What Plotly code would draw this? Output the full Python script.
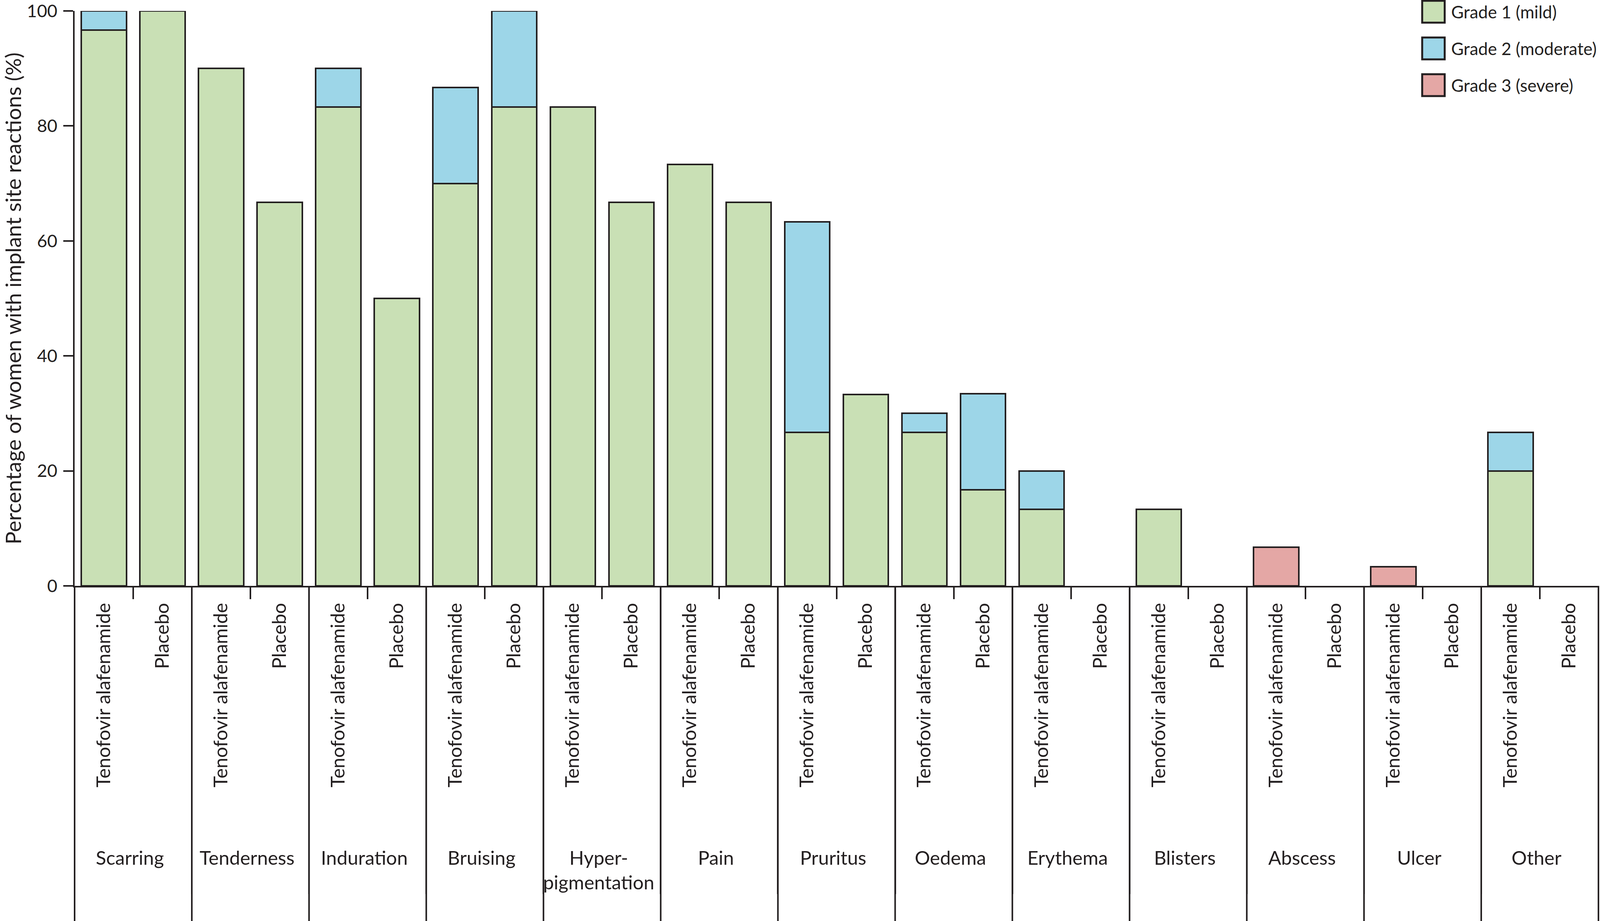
import plotly.graph_objects as go

# ---------------- data ----------------
groups = ["Scarring", "Tenderness", "Induration", "Bruising", "Hyper-<br>pigmentation",
          "Pain", "Pruritus", "Oedema", "Erythema", "Blisters", "Abscess", "Ulcer", "Other"]
arms = ["Tenofovir alafenamide", "Placebo"]

grade1_taf = [96.7, 90.0, 83.3, 70.0, 83.3, 73.3, 26.7, 26.7, 13.3, 13.3, 0.0, 0.0, 20.0]
grade2_taf = [3.3, 0.0, 6.7, 16.7, 0.0, 0.0, 36.6, 3.3, 6.7, 0.0, 0.0, 0.0, 6.7]
grade3_taf = [0.0, 0.0, 0.0, 0.0, 0.0, 0.0, 0.0, 0.0, 0.0, 0.0, 6.7, 3.3, 0.0]

grade1_pbo = [100.0, 66.7, 50.0, 83.3, 66.7, 66.7, 33.3, 16.7, 0.0, 0.0, 0.0, 0.0, 0.0]
grade2_pbo = [0.0, 0.0, 0.0, 16.7, 0.0, 0.0, 0.0, 16.7, 0.0, 0.0, 0.0, 0.0, 0.0]
grade3_pbo = [0.0, 0.0, 0.0, 0.0, 0.0, 0.0, 0.0, 0.0, 0.0, 0.0, 0.0, 0.0, 0.0]

grade_names = ["Grade 1 (mild)", "Grade 2 (moderate)", "Grade 3 (severe)"]
y_ticks = [0, 20, 40, 60, 80, 100]
y_title = "Percentage of women with implant site reactions (%)"

# ---------------- styling ----------------
FONT = "Lato, Open Sans, sans-serif"
INK = "#231F20"
colors = ["#C9E0B5", "#9DD6E8", "#E4A7A5"]

# reference geometry (5048 x 2358 design); horizontal values get scaled by k
REF_W, H = 5048, 2358
K = 4096 / REF_W              # expected viewport width / design width
ML_REF, MR_REF, MT, MB = 236, 5, 28, 858
PH = H - MT - MB
PW_REF = REF_W - ML_REF - MR_REF


def interleave(a, b):
    out = []
    for va, vb in zip(a, b):
        out += [va if va > 0 else None, vb if vb > 0 else None]
    return out


xg = [("<br><br>" + g) for g in groups for _ in arms]
xa = [a for _ in groups for a in arms]

series = [
    interleave(grade1_taf, grade1_pbo),
    interleave(grade2_taf, grade2_pbo),
    interleave(grade3_taf, grade3_pbo),
]

fig = go.Figure()
for name, vals, col in zip(grade_names, series, colors):
    fig.add_trace(go.Bar(
        x=[xg, xa], y=vals, name=name, showlegend=False,
        marker=dict(color=col, line=dict(color=INK, width=4)),
    ))

fig.update_layout(
    barmode="stack", bargap=0.23,
    autosize=True,
    margin=dict(l=ML_REF * K, r=MR_REF * K, t=MT, b=MB, pad=0),
    plot_bgcolor="white", paper_bgcolor="white",
    font=dict(family=FONT, color=INK, size=50),
)

fig.update_xaxes(
    type="multicategory",
    showline=True, linecolor=INK, linewidth=4,
    ticks="outside", ticklen=30, tickwidth=4, tickcolor=INK,
    tickangle=-90, tickfont=dict(size=49, family=FONT, color=INK),
    ticklabelstandoff=20,
    showdividers=True, dividercolor=INK, dividerwidth=4,
    showgrid=False, zeroline=False, automargin=False,
)
fig.update_yaxes(
    range=[0, 100], tickvals=y_ticks, ticktext=[str(v) for v in y_ticks],
    showline=True, linecolor=INK, linewidth=4,
    ticks="outside", ticklen=31 * K, tickwidth=4, tickcolor=INK,
    tickfont=dict(size=45, family=FONT, color=INK),
    ticklabelstandoff=6, ticklabeloverflow="allow",
    showgrid=False, zeroline=False,
    title=dict(text=y_title, font=dict(size=55, family=FONT, color=INK), standoff=8),
    automargin=False,
)

# divider extensions down to the bottom edge
n = len(groups)
for g in range(n + 1):
    fig.add_shape(type="line", xref="paper", yref="paper",
                  x0=g / n, x1=g / n, y0=0, y1=-MB / PH,
                  line=dict(color=INK, width=4), layer="above")

# custom legend (boxes + labels), reference-pixel positions
box_x0, box_x1, text_x = 4487, 4558, 4576
row_centers = [30, 124, 218]
box_h = 56


def px_x(x):
    return (x - ML_REF) / PW_REF


def px_y(y):
    return (MT + PH - y) / PH


for name, col, cy in zip(grade_names, colors, row_centers):
    fig.add_shape(type="rect", xref="paper", yref="paper",
                  x0=px_x(box_x0), x1=px_x(box_x1),
                  y0=px_y(cy - box_h / 2), y1=px_y(cy + box_h / 2),
                  fillcolor=col, line=dict(color=INK, width=5))
    fig.add_annotation(xref="paper", yref="paper",
                       x=px_x(text_x), y=px_y(cy),
                       xanchor="left", yanchor="middle", showarrow=False,
                       text=name, font=dict(size=44, family=FONT, color=INK))

post = """
document.documentElement.style.height = '100%';
document.documentElement.style.margin = '0';
document.body.style.height = '100%';
document.body.style.margin = '0';
document.body.style.overflow = 'hidden';
var gd = document.getElementById('{plot_id}');
gd.style.width = '100vw';
gd.style.height = '100vh';
var k = (window.innerWidth || 4096) / 5048;
Plotly.relayout(gd, {'margin.l': 236 * k, 'margin.r': 5 * k, 'yaxis.ticklen': 31 * k});
"""

fig.write_html("out.html", default_width="100vw", default_height="100vh",
               config={"responsive": True, "displayModeBar": False}, post_script=post)
